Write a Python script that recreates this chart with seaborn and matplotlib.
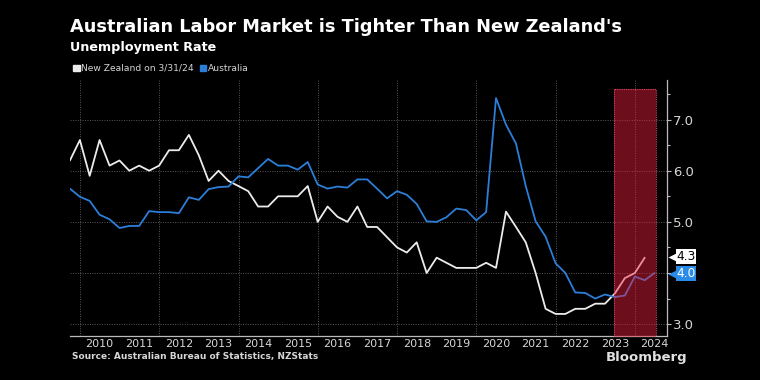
import pandas as pd
import matplotlib.pyplot as plt
import matplotlib.dates as mdates
import matplotlib.ticker as mticker
import matplotlib.transforms as mtrans
from matplotlib.patches import Rectangle
import seaborn as sns

# quarterly unemployment rate
nz_start = '2009-09-30'
nz_rate = [6.2, 6.6,
           5.9, 6.6, 6.1, 6.2,
           6.0, 6.1, 6.0, 6.1,
           6.4, 6.4, 6.7, 6.3,
           5.8, 6.0, 5.8, 5.7,
           5.6, 5.3, 5.3, 5.5,
           5.5, 5.5, 5.7, 5.0,
           5.3, 5.1, 5.0, 5.3,
           4.9, 4.9, 4.7, 4.5,
           4.4, 4.6, 4.0, 4.3,
           4.2, 4.1, 4.1, 4.1,
           4.2, 4.1, 5.2, 4.9,
           4.6, 4.0, 3.3, 3.2,
           3.2, 3.3, 3.3, 3.4,
           3.4, 3.6, 3.9, 4.0,
           4.3]

au_start = '2009-09-30'
au_rate = [5.65, 5.49,
           5.41, 5.14, 5.05, 4.88,
           4.92, 4.92, 5.21, 5.19,
           5.19, 5.17, 5.48, 5.43,
           5.64, 5.68, 5.69, 5.89,
           5.87, 6.05, 6.23, 6.10,
           6.10, 6.02, 6.17, 5.73,
           5.65, 5.69, 5.67, 5.83,
           5.83, 5.65, 5.46, 5.60,
           5.53, 5.35, 5.01, 5.00,
           5.09, 5.26, 5.23, 5.03,
           5.19, 7.42, 6.90, 6.53,
           5.70, 5.01, 4.71, 4.19,
           4.00, 3.62, 3.61, 3.50,
           3.58, 3.53, 3.56, 3.93,
           3.86, 4.00]

nz_label = 'New Zealand on 3/31/24'
au_label = 'Australia'
years = list(range(2010, 2025))
y_ticks = [3.0, 4.0, 5.0, 6.0, 7.0]
shade_start, shade_end = '2023-06-18', '2024-07-15'

nz_color = '#ececec'
au_color = '#2b7fd9'
tag_blue = '#2a8ae8'
grid_color = '#5a5a5a'
text_color = '#d6d6d6'

nz = pd.DataFrame({'date': pd.date_range(nz_start, periods=len(nz_rate), freq='QE'),
                   'rate': nz_rate})
au = pd.DataFrame({'date': pd.date_range(au_start, periods=len(au_rate), freq='QE'),
                   'rate': au_rate})

sns.set_style('dark', {'axes.facecolor': 'black', 'figure.facecolor': 'black'})
plt.rcParams['font.family'] = ['DejaVu Sans']

fig = plt.figure(figsize=(7.6, 3.8), dpi=100)
ax = fig.add_axes([0.092, 0.116, 0.786, 0.673])
ax.set_facecolor('black')

# gridlines
for v in y_ticks:
    ax.axhline(v, color=grid_color, lw=0.7, ls=(0, (1, 1.5)), zorder=1)
for yr in years[::2]:
    ax.axvline(pd.Timestamp(f'{yr}-01-01'), color=grid_color, lw=0.7, ls=(0, (1, 1.5)), zorder=1)

sns.lineplot(data=nz, x='date', y='rate', ax=ax, color=nz_color, lw=1.3, zorder=3)
sns.lineplot(data=au, x='date', y='rate', ax=ax, color=au_color, lw=1.3, zorder=3)

# highlighted period
span = [pd.Timestamp(shade_start), pd.Timestamp(shade_end)]
ax.fill_between(span, 2.5, 7.6, color='#f02040', alpha=0.45, lw=0, zorder=4)
ax.fill_between(span, 2.5, 7.6, facecolor='none', edgecolor='#d04860',
                lw=0.8, ls=(0, (1, 1)), zorder=4)

ax.set_xlim(pd.Timestamp('2009-09-30'), pd.Timestamp('2024-10-25'))
ax.set_ylim(2.77, 7.77)

# y axis on the right; the tick label hidden under the Australia tag is left blank
def y_fmt(v, pos):
    return '' if abs(v - au_rate[-1]) < 1e-6 else f'{v:.1f}'

ax.yaxis.tick_right()
ax.yaxis.set_major_locator(mticker.FixedLocator(y_ticks))
ax.yaxis.set_minor_locator(mticker.MultipleLocator(0.5))
ax.yaxis.set_major_formatter(mticker.FuncFormatter(y_fmt))
ax.tick_params(axis='y', which='major', length=3, width=0.8, color='#bbbbbb',
               labelcolor=text_color, labelsize=9.5, pad=1, right=True, left=False)
ax.tick_params(axis='y', which='minor', length=2.5, width=0.8, color='#bbbbbb',
               right=True, left=False)

# x axis: tick marks at year boundaries, labels mid-year
ax.xaxis.set_major_locator(mdates.YearLocator(1))
ax.xaxis.set_major_formatter(mticker.NullFormatter())
ax.xaxis.set_minor_locator(mdates.MonthLocator(bymonth=7, bymonthday=1))
ax.xaxis.set_minor_formatter(mdates.DateFormatter('%Y'))
ax.tick_params(axis='x', which='major', length=6, width=0.8, color='#bbbbbb', direction='out')
ax.tick_params(axis='x', which='minor', length=0, labelcolor=text_color, labelsize=8, pad=2)

ax.set_xlabel('')
ax.set_ylabel('')
for side in ['top', 'left']:
    ax.spines[side].set_visible(False)
for side in ['bottom', 'right']:
    ax.spines[side].set_visible(True)
    ax.spines[side].set_color('#bbbbbb')
    ax.spines[side].set_linewidth(0.9)

# last-value tags (NZ tag nudged up a little so the two don't collide)
trans = mtrans.blended_transform_factory(ax.transAxes, ax.transData)
tags = [(nz_rate[-1], 0.02, 'white', 'black'), (au_rate[-1], -0.01, tag_blue, 'white')]
for val, nudge, fc, tc in tags:
    ax.annotate(f'{val:.1f}', xy=(1, val + nudge), xycoords=trans,
                xytext=(6.5, 0), textcoords='offset points', va='center', ha='left',
                fontsize=8.8, color=tc, annotation_clip=False,
                bbox=dict(boxstyle='square,pad=0.06', fc=fc, ec='none'))
    ax.plot([1.0075], [val + nudge], marker='<', ms=5.5, color=fc, mec='none',
            transform=trans, clip_on=False, zorder=6)

# titles
fig.text(0.092, 0.929, "Australian Labor Market is Tighter Than New Zealand's",
         color='white', fontsize=12.8, fontweight='bold', va='center', ha='left')
fig.text(0.092, 0.876, 'Unemployment Rate', color='white', fontsize=9.2,
         fontweight='bold', va='center', ha='left')

# legend
fig.patches.append(Rectangle((0.0965, 0.812), 0.0085, 0.017, transform=fig.transFigure,
                             color=nz_color, figure=fig))
fig.text(0.107, 0.820, nz_label, color=text_color, fontsize=6.6, va='center', ha='left')
fig.patches.append(Rectangle((0.2625, 0.812), 0.0085, 0.017, transform=fig.transFigure,
                             color=au_color, figure=fig))
fig.text(0.2735, 0.820, au_label, color=text_color, fontsize=6.6, va='center', ha='left')

fig.text(0.095, 0.062, 'Source: Australian Bureau of Statistics, NZStats', color=text_color,
         fontsize=6.5, fontweight='bold', va='center', ha='left')
fig.text(0.905, 0.060, 'Bloomberg', color='#e0e0e0', fontsize=9.5, fontweight='bold',
         va='center', ha='right')

fig.savefig('out.png', dpi=100, facecolor='black')
